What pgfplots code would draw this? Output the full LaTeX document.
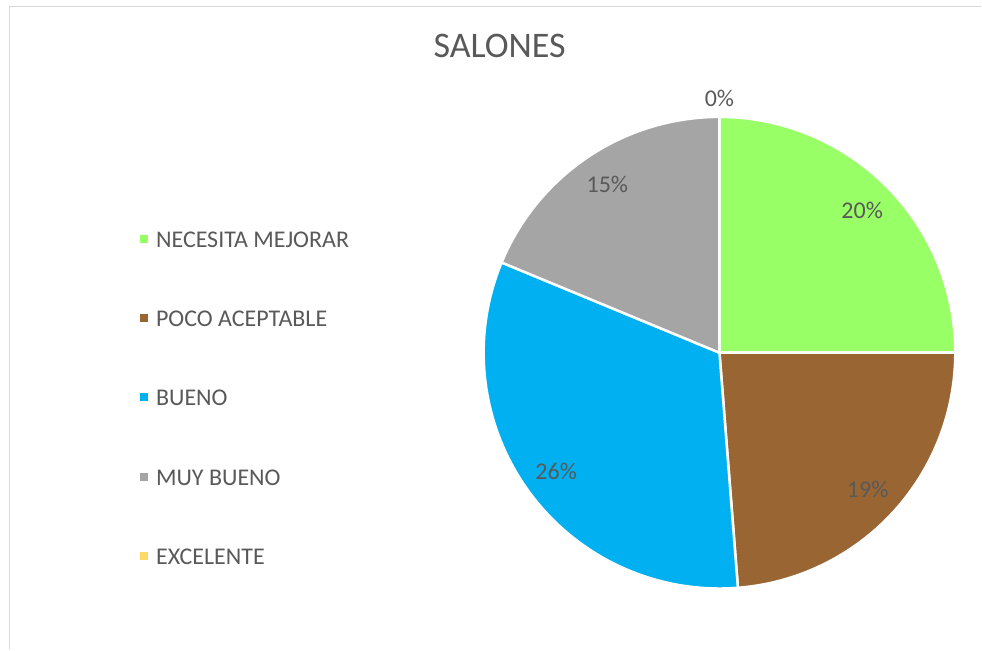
\documentclass[border=0pt]{standalone}
\usepackage{pgfplots}
\pgfplotsset{compat=1.18}
\usepackage{pgfplotstable}
\usepackage{fontspec}
\setmainfont{Carlito}
\definecolor{cNec}{HTML}{99FF66}
\definecolor{cPoco}{HTML}{996633}
\definecolor{cBueno}{HTML}{00B0F0}
\definecolor{cMuy}{HTML}{A5A5A5}
\definecolor{cExc}{HTML}{FFD966}
\definecolor{txt}{HTML}{595959}
\definecolor{frame}{HTML}{D9D9D9}

\pgfplotstableread{
value
20
19
26
15
0
}\piedata
\pgfplotstablegetelem{0}{value}\of\piedata \let\vA\pgfplotsretval
\pgfplotstablegetelem{1}{value}\of\piedata \let\vB\pgfplotsretval
\pgfplotstablegetelem{2}{value}\of\piedata \let\vC\pgfplotsretval
\pgfplotstablegetelem{3}{value}\of\piedata \let\vD\pgfplotsretval
\pgfplotstablegetelem{4}{value}\of\piedata \let\vE\pgfplotsretval
\pgfmathsetmacro\tot{\vA+\vB+\vC+\vD+\vE}
\pgfmathsetmacro\aA{90}
\pgfmathsetmacro\aB{\aA-360*\vA/\tot}
\pgfmathsetmacro\aC{\aB-360*\vB/\tot}
\pgfmathsetmacro\aD{\aC-360*\vC/\tot}
\pgfmathsetmacro\aE{\aD-360*\vD/\tot}
\pgfmathsetmacro\mA{(\aA+\aB)/2}
\pgfmathsetmacro\mB{(\aB+\aC)/2}
\pgfmathsetmacro\mC{(\aC+\aD)/2}
\pgfmathsetmacro\mD{(\aD+\aE)/2}
\def\cx{720}
\def\cy{297}
\def\R{236}
\def\rl{202}
\newcommand\lblfont{\fontsize{24bp}{28bp}\selectfont}

\begin{document}
\begin{tikzpicture}
\begin{axis}[
  width=982bp, height=650bp, scale only axis,
  xmin=0, xmax=982, ymin=0, ymax=650,
  hide axis, clip=false,
  legend image code/.code={\fill[#1,draw=none] (0bp,-4bp) rectangle (8bp,4bp); \path[draw=none,fill=none] (0bp,0bp) -- (16bp,0bp);},
  legend style={at={(axis cs:137,421.5)}, anchor=north west, draw=none, fill=none,
    font=\lblfont, text=txt, row sep=62.3bp,
    nodes={inner sep=0pt, text height=17bp, text depth=0pt}},
  legend cell align=left,
]
\path (rel axis cs:0,0) rectangle (rel axis cs:1,1);
\draw[frame, line width=1.5bp] (9.5,0) -- (9.5,643.5) -- (982,643.5);

\addplot[fill=cNec, draw=white, line width=2.5bp, domain=\aB:\aA, samples=80, variable=\t]
  ({\cx+\R*cos(\t)},{\cy+\R*sin(\t)}) -- (\cx,\cy) -- cycle;
\addlegendentry{NECESITA MEJORAR}
\addplot[fill=cPoco, draw=white, line width=2.5bp, domain=\aC:\aB, samples=80, variable=\t]
  ({\cx+\R*cos(\t)},{\cy+\R*sin(\t)}) -- (\cx,\cy) -- cycle;
\addlegendentry{POCO ACEPTABLE}
\addplot[fill=cBueno, draw=white, line width=2.5bp, domain=\aD:\aC, samples=80, variable=\t]
  ({\cx+\R*cos(\t)},{\cy+\R*sin(\t)}) -- (\cx,\cy) -- cycle;
\addlegendentry{BUENO}
\addplot[fill=cMuy, draw=white, line width=2.5bp, domain=\aE:\aD, samples=80, variable=\t]
  ({\cx+\R*cos(\t)},{\cy+\R*sin(\t)}) -- (\cx,\cy) -- cycle;
\addlegendentry{MUY BUENO}
\addlegendimage{fill=cExc, draw=none}
\addlegendentry{EXCELENTE}

\node[txt, font=\lblfont] at ({\cx+\rl*cos(\mA)},{\cy+\rl*sin(\mA)}) {\vA\%};
\node[txt, font=\lblfont] at ({\cx+\rl*cos(\mB)},{\cy+\rl*sin(\mB)}) {\vB\%};
\node[txt, font=\lblfont] at ({\cx+\rl*cos(\mC)},{\cy+\rl*sin(\mC)}) {\vC\%};
\node[txt, font=\lblfont] at ({\cx+\rl*cos(\mD)},{\cy+\rl*sin(\mD)}) {\vD\%};
\node[txt, font=\lblfont] at ({\cx+254*cos(\aE)},{\cy+254*sin(\aE)}) {\vE\%};

\node[txt, font=\fontsize{36bp}{42bp}\selectfont, anchor=base] at (500,592) {SALONES};
\end{axis}
\end{tikzpicture}
\end{document}
